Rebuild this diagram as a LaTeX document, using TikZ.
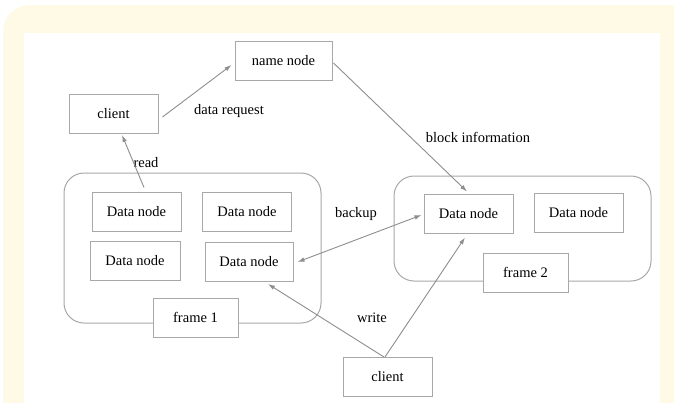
\documentclass[tikz,border=0pt]{standalone}
\usepackage{fontspec}
\setmainfont{Liberation Serif}
\usetikzlibrary{arrows.meta,calc}
\definecolor{cream}{HTML}{FFFAE6}
\definecolor{boxgray}{HTML}{A8A8A8}
\definecolor{arrgray}{HTML}{8E8E8E}
\tikzset{
  box/.style={draw=boxgray, fill=white, line width=1pt, minimum width=#1, minimum height=39pt, inner sep=0pt, font=\fontsize{14.5}{17}\selectfont},
  box/.default=89pt,
  frm/.style={draw=boxgray, line width=1pt, rounded corners=20pt},
  arr/.style={draw=arrgray, line width=0.9pt, -{Latex[length=7pt,width=4.5pt]}},
  darr/.style={draw=arrgray, line width=0.9pt, {Latex[length=7pt,width=4.5pt]}-{Latex[length=7pt,width=4.5pt]}},
  lbl/.style={inner sep=0pt, font=\fontsize{14.5}{17}\selectfont}
}
\begin{document}
\begin{tikzpicture}[x=1pt,y=-1pt]
\useasboundingbox (0,0) rectangle (674,402);
\clip (0,0) rectangle (674,402);
\fill[cream, rounded corners=26pt] (3,5) rectangle (700,440);
\fill[white] (24,33) rectangle (660,420);
% frames
\draw[frm] (64,173) rectangle (321,323);
\draw[frm] (394,176) rectangle (651,281);
% nodes
\node[box=97pt] (namenode) at (283.5,60.5) {name node};
\node[box] (client1) at (113.5,114) {client};
\node[box] (d1) at (136.5,211.5) {Data node};
\node[box] (d2) at (247,212) {Data node};
\node[box=90pt] (d3) at (135,261) {Data node};
\node[box=88pt] (d4) at (249,262) {Data node};
\node[box=85pt] (f1) at (195.5,317.5) {frame 1};
\node[box] (d5) at (468.5,213.5) {Data node};
\node[box] (d6) at (578.5,213) {Data node};
\node[box=85pt] (f2) at (525.5,272.5) {frame 2};
\node[box] (client2) at (387.5,377) {client};
% labels
\node[lbl] (lreq) at (229,111) {data request};
\node[lbl] (lread) at (146,163) {read};
\node[lbl] (lblock) at (478,137) {block information};
\node[lbl] (lbackup) at (356,214) {backup};
\node[lbl] (lwrite) at (372,318) {write};
% connectors
\draw[arr] ($(d1.north)+(7.5,-4)$) -- ($(client1.south)+(8.5,1)$);
\draw[arr] ($(client1.east)+(4,3)$) -- ($(namenode.west)+(-3,4.5)$);
\draw[arr] ($(namenode.east)+(1,2.5)$) -- ($(d5.north)+(-1.5,-2)$);
\draw[darr] ($(d4.east)+(4,0)$) -- ($(d5.west)+(-2,1.5)$);
\draw[arr] ($(client2.north)+(-3.5,0)$) -- ($(d4.south)+(19,2)$);
\draw[arr] ($(client2.north)+(-2.5,0)$) -- ($(d5.south)+(-3.5,4)$);
\end{tikzpicture}
\end{document}
